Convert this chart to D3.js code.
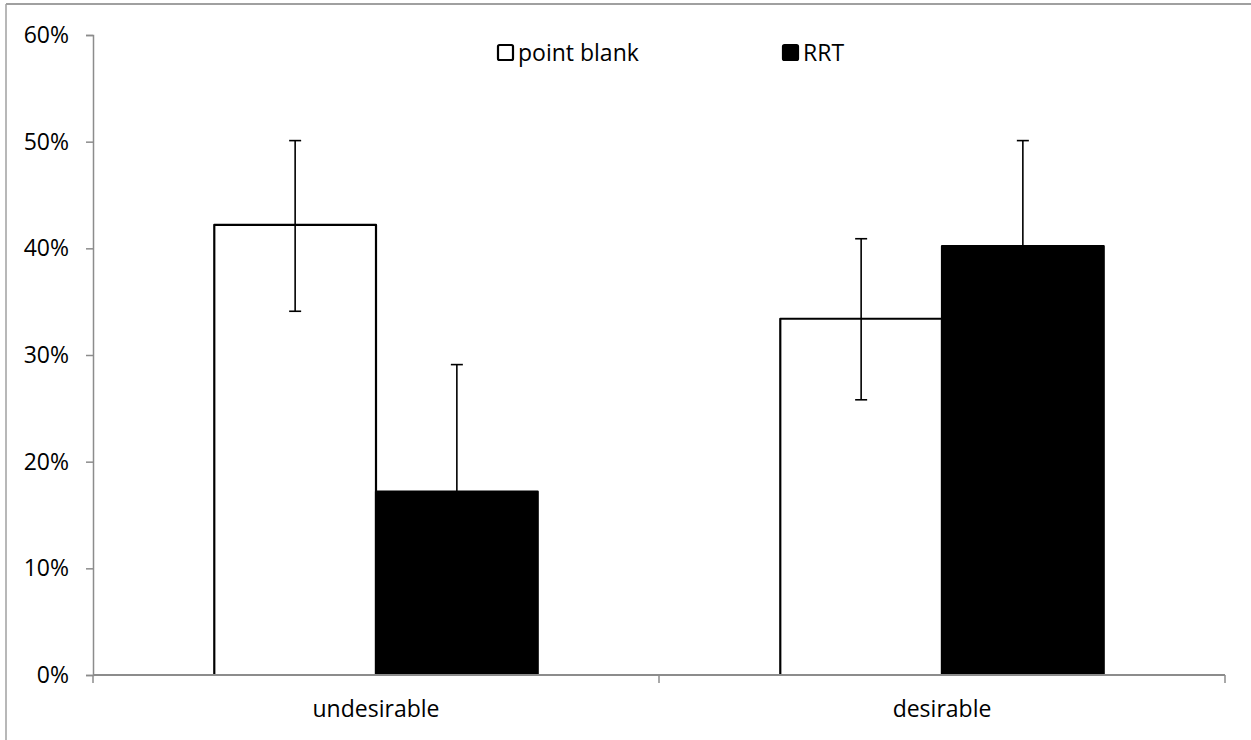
<!DOCTYPE html>
<html>
<head>
<meta charset="utf-8">
<script src="https://cdn.jsdelivr.net/npm/d3@7"></script>
<style>
  html, body { margin: 0; padding: 0; background: #fff; }
  svg { display: block; }
  text { font-family: "Open Sans", Lato, sans-serif; fill: #000; }
</style>
</head>
<body>
<svg id="chart" width="1251" height="740"></svg>
<script>
// Response categories and the two survey methods
const categories = ["undesirable", "desirable"];
const seriesNames = ["point blank", "RRT"];
const pointBlank = [0.422, 0.334];
const rrt = [0.172, 0.402];
// Upper and lower bounds of the error bars
const pointBlankHigh = [0.501, 0.409];
const pointBlankLow = [0.341, 0.258];
const rrtHigh = [0.291, 0.501];
const rrtLow = [0.053, 0.303];
const yTicks = [0, 0.1, 0.2, 0.3, 0.4, 0.5, 0.6];

const svg = d3.select("#chart");
const W = 1251, H = 740;
const margin = { left: 93, right: 26, top: 35, bottom: 65 };

// Outer frame lines
svg.append("line").attr("x1", 6).attr("x2", W).attr("y1", 4).attr("y2", 4)
  .attr("stroke", "#a0a0a0").attr("stroke-width", 2);
svg.append("line").attr("x1", 6).attr("x2", 6).attr("y1", 4).attr("y2", H)
  .attr("stroke", "#a0a0a0").attr("stroke-width", 1.5);

const x0 = d3.scaleBand().domain(categories)
  .range([margin.left, W - margin.right]).paddingInner(0).paddingOuter(0);
const gapShare = 0.75 / 3.5; // gap width 150%
const x1 = d3.scaleBand().domain(seriesNames)
  .range([x0.bandwidth() * gapShare, x0.bandwidth() * (1 - gapShare)]);
const y = d3.scaleLinear().domain([0, 0.6]).range([H - margin.bottom, margin.top]);

const axisColor = "#8c8c8c";
const fontSize = "23px";

// Y axis
const yAxis = svg.append("g").attr("transform", `translate(${margin.left},0)`)
  .call(d3.axisLeft(y).tickValues(yTicks).tickFormat(d3.format(".0%")).tickSize(7).tickPadding(17));
yAxis.select(".domain").attr("stroke", axisColor).attr("stroke-width", 1.5);
yAxis.selectAll(".tick line").attr("stroke", axisColor).attr("stroke-width", 1.5);
yAxis.selectAll(".tick text").style("font-size", fontSize).attr("fill", "#000")
  .style("font-family", "'Open Sans', sans-serif");

// Bars
const rows = categories.map((c, i) => ({
  cat: c,
  vals: [
    { s: "point blank", v: pointBlank[i], hi: pointBlankHigh[i], lo: pointBlankLow[i], fill: "#ffffff" },
    { s: "RRT", v: rrt[i], hi: rrtHigh[i], lo: rrtLow[i], fill: "#000000" }
  ]
}));

const groups = svg.append("g").selectAll("g").data(rows).join("g")
  .attr("transform", d => `translate(${x0(d.cat)},0)`);

groups.selectAll("rect").data(d => d.vals).join("rect")
  .attr("x", d => x1(d.s))
  .attr("y", d => y(d.v))
  .attr("width", x1.bandwidth())
  .attr("height", d => y(0) - y(d.v))
  .attr("fill", d => d.fill)
  .attr("stroke", "#000")
  .attr("stroke-width", 2.2)
  .attr("stroke-linejoin", "round");

// Error bars
const cap = 6;
const eb = groups.selectAll("g.err").data(d => d.vals).join("g").attr("class", "err");
eb.append("line")
  .attr("x1", d => x1(d.s) + x1.bandwidth() / 2)
  .attr("x2", d => x1(d.s) + x1.bandwidth() / 2)
  .attr("y1", d => y(d.hi)).attr("y2", d => y(d.lo))
  .attr("stroke", "#000").attr("stroke-width", 1.6);
eb.append("line")
  .attr("x1", d => x1(d.s) + x1.bandwidth() / 2 - cap)
  .attr("x2", d => x1(d.s) + x1.bandwidth() / 2 + cap)
  .attr("y1", d => y(d.hi)).attr("y2", d => y(d.hi))
  .attr("stroke", "#000").attr("stroke-width", 1.6);
eb.append("line")
  .attr("x1", d => x1(d.s) + x1.bandwidth() / 2 - cap)
  .attr("x2", d => x1(d.s) + x1.bandwidth() / 2 + cap)
  .attr("y1", d => y(d.lo)).attr("y2", d => y(d.lo))
  .attr("stroke", "#000").attr("stroke-width", 1.6);

// X axis with category boundary ticks
const xAxisG = svg.append("g").attr("transform", `translate(0,${y(0)})`);
xAxisG.append("line").attr("x1", margin.left).attr("x2", W - margin.right)
  .attr("y1", 0).attr("y2", 0).attr("stroke", axisColor).attr("stroke-width", 2);
const bounds = [x0(categories[0]), x0(categories[1]), x0(categories[1]) + x0.bandwidth()];
xAxisG.selectAll("line.tk").data(bounds).join("line").attr("class", "tk")
  .attr("x1", d => d).attr("x2", d => d).attr("y1", 0).attr("y2", 8)
  .attr("stroke", axisColor).attr("stroke-width", 1.5);
xAxisG.selectAll("text").data(categories).join("text")
  .attr("x", d => x0(d) + x0.bandwidth() / 2)
  .attr("y", 42)
  .attr("text-anchor", "middle")
  .style("font-size", fontSize)
  .text(d => d);

// Legend
const legend = svg.append("g");
const legendItems = [
  { name: seriesNames[0], x: 498, fill: "#fff" },
  { name: seriesNames[1], x: 783, fill: "#000" }
];
const lg = legend.selectAll("g").data(legendItems).join("g")
  .attr("transform", d => `translate(${d.x},45)`);
lg.append("rect").attr("x", 0).attr("y", 0).attr("width", 15).attr("height", 15)
  .attr("rx", 1.5).attr("fill", d => d.fill).attr("stroke", "#000").attr("stroke-width", 2.2);
lg.append("text").attr("x", 20).attr("y", 16).style("font-size", fontSize).text(d => d.name);
</script>
</body>
</html>
